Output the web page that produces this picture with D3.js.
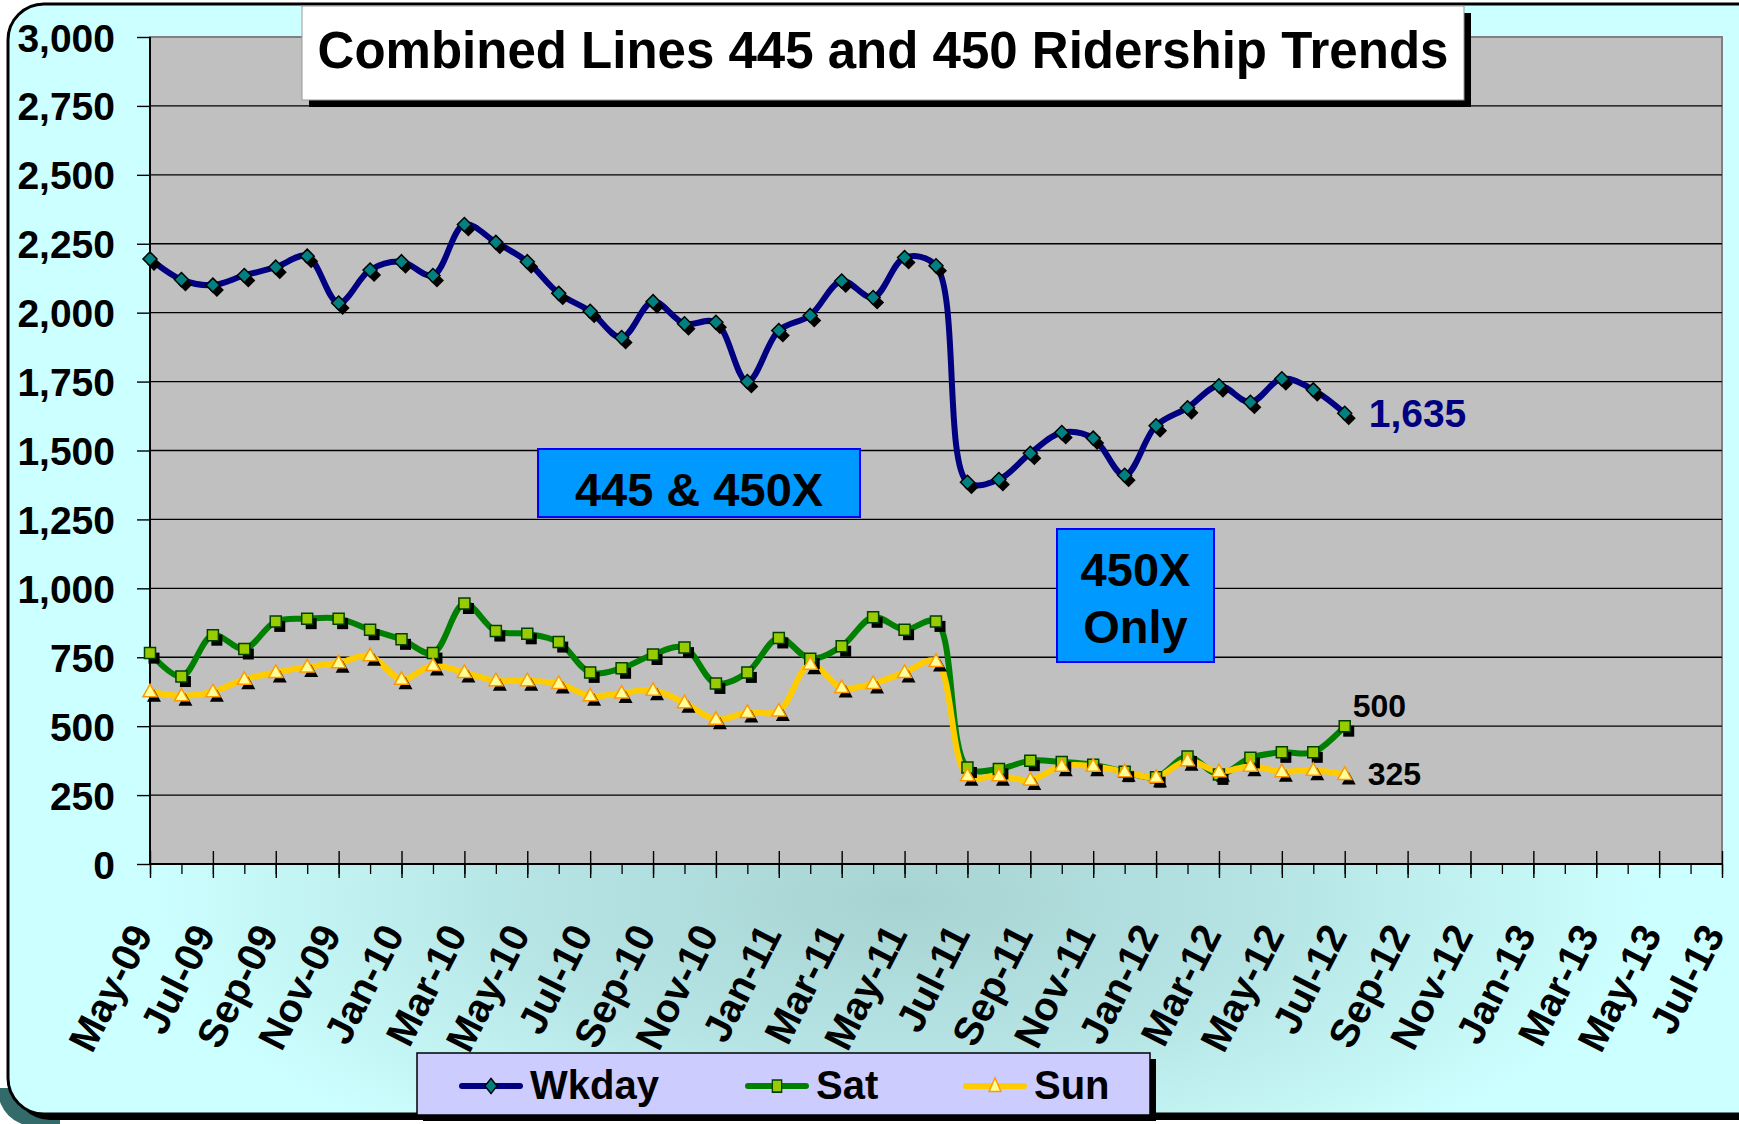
<!DOCTYPE html>
<html>
<head>
<meta charset="utf-8">
<script src="https://cdn.jsdelivr.net/npm/d3@7"></script>
<style>
  body { margin: 0; background: #fff; }
  svg { display: block; font-family: 'Liberation Sans', Arial, sans-serif; font-weight: bold; }
</style>
</head>
<body>
<svg id="chart" width="1739" height="1124"></svg>
<script>
var axisMonths = ['May-09', 'Jun-09', 'Jul-09', 'Aug-09', 'Sep-09', 'Oct-09', 'Nov-09', 'Dec-09',
  'Jan-10', 'Feb-10', 'Mar-10', 'Apr-10', 'May-10', 'Jun-10', 'Jul-10', 'Aug-10', 'Sep-10', 'Oct-10', 'Nov-10', 'Dec-10',
  'Jan-11', 'Feb-11', 'Mar-11', 'Apr-11', 'May-11', 'Jun-11', 'Jul-11', 'Aug-11', 'Sep-11', 'Oct-11', 'Nov-11', 'Dec-11',
  'Jan-12', 'Feb-12', 'Mar-12', 'Apr-12', 'May-12', 'Jun-12', 'Jul-12', 'Aug-12', 'Sep-12', 'Oct-12', 'Nov-12', 'Dec-12',
  'Jan-13', 'Feb-13', 'Mar-13', 'Apr-13', 'May-13', 'Jun-13', 'Jul-13']

var dataMonths = axisMonths.slice(0, 39)

var wkday = [2195, 2120, 2100, 2135, 2165, 2205, 2035, 2155, 2185, 2135,
  2320, 2255, 2185, 2070, 2005, 1910, 2040, 1960, 1965, 1750,
  1935, 1990, 2115, 2055, 2200, 2170, 1385, 1395, 1490, 1565,
  1545, 1410, 1590, 1655, 1735, 1675, 1760, 1720, 1635]

var sat = [765, 680, 830, 780, 880, 890, 890, 850, 815, 765,
  945, 845, 835, 805, 695, 710, 760, 785, 655, 695,
  820, 745, 790, 895, 850, 880, 350, 345, 375, 370,
  360, 335, 315, 390, 325, 385, 405, 405, 500]

var sun = [625, 610, 625, 670, 695, 715, 730, 755, 670, 720,
  695, 665, 665, 655, 610, 620, 630, 585, 525, 550,
  555, 725, 640, 655, 695, 735, 320, 320, 305, 355,
  355, 335, 315, 375, 335, 355, 335, 340, 325]

var yTicks = [0, 250, 500, 750, 1000, 1250, 1500, 1750, 2000, 2250, 2500, 2750, 3000]
var seriesNames = ['Wkday', 'Sat', 'Sun']
var title = 'Combined Lines 445 and 450 Ridership Trends'

var plot = { left: 150, right: 1722, top: 37, bottom: 864 }

var svg = d3.select('#chart')
var defs = svg.append('defs')

var grad = defs.append('radialGradient')
  .attr('id', 'bg')
  .attr('gradientUnits', 'userSpaceOnUse')
  .attr('cx', 900).attr('cy', 900).attr('r', 750)
  .attr('gradientTransform', 'translate(900,900) scale(1,0.42) translate(-900,-900)')
grad.append('stop').attr('offset', 0).attr('stop-color', '#a8d3d3')
grad.append('stop').attr('offset', 0.5).attr('stop-color', '#b6e4e4')
grad.append('stop').attr('offset', 1).attr('stop-color', '#ccffff')

defs.append('clipPath').attr('id', 'cornerClip')
  .append('rect').attr('x', 0).attr('y', 1088).attr('width', 60).attr('height', 40)

// frame with shadows
svg.append('rect')
  .attr('x', -2).attr('y', 16).attr('width', 1800).attr('height', 1110).attr('rx', 36)
  .attr('fill', '#336b6b')
  .attr('clip-path', 'url(#cornerClip)')
svg.append('rect')
  .attr('x', 14).attr('y', 10).attr('width', 1800).attr('height', 1110).attr('rx', 36)
  .attr('fill', '#000')
svg.append('rect')
  .attr('x', 8).attr('y', 4).attr('width', 1800).attr('height', 1110).attr('rx', 36)
  .attr('fill', 'url(#bg)')
  .attr('stroke', '#000').attr('stroke-width', 3)

var x = d3.scalePoint().domain(axisMonths).range([plot.left, plot.right])
var y = d3.scaleLinear().domain([0, 3000]).range([plot.bottom, plot.top])

// plot area
svg.append('rect')
  .attr('x', plot.left).attr('y', plot.top)
  .attr('width', plot.right - plot.left).attr('height', plot.bottom - plot.top)
  .attr('fill', '#c0c0c0')
  .attr('stroke', '#808080').attr('stroke-width', 2)

svg.append('g').selectAll('line')
  .data(yTicks.filter(function (d) { return d > 0 && d < 3000 }))
  .join('line')
  .attr('x1', plot.left).attr('x2', plot.right)
  .attr('y1', function (d) { return y(d) }).attr('y2', function (d) { return y(d) })
  .attr('stroke', '#000').attr('stroke-width', 1.4)

// y axis
var yAxis = svg.append('g')
  .attr('transform', 'translate(' + plot.left + ',0)')
  .call(d3.axisLeft(y).tickValues(yTicks).tickFormat(d3.format(',')).tickSize(13).tickPadding(22))
yAxis.select('.domain').remove()
yAxis.selectAll('line').attr('stroke', '#000').attr('stroke-width', 1.4)
yAxis.selectAll('text')
  .attr('font-size', 39).attr('font-family', "'Liberation Sans', Arial, sans-serif")
  .attr('font-weight', 'bold').attr('fill', '#000').attr('dy', '0.36em')

// x axis: minor ticks every month, major crossing ticks every two months
var majorMonths = axisMonths.filter(function (d, i) { return i % 2 === 0 })

var xMinor = svg.append('g')
  .attr('transform', 'translate(0,' + plot.bottom + ')')
  .call(d3.axisBottom(x).tickSize(10).tickFormat(''))
xMinor.select('.domain').remove()
xMinor.selectAll('line').attr('stroke', '#000').attr('stroke-width', 1.3)

var xAxis = svg.append('g')
  .attr('transform', 'translate(0,' + plot.bottom + ')')
  .call(d3.axisBottom(x).tickValues(majorMonths).tickSize(14))
xAxis.select('.domain').remove()
xAxis.selectAll('line').attr('y1', -13).attr('stroke', '#000').attr('stroke-width', 1.4)
xAxis.selectAll('text')
  .attr('font-size', 40).attr('font-family', "'Liberation Sans', Arial, sans-serif")
  .attr('font-weight', 'bold').attr('fill', '#000')
  .attr('x', 0).attr('y', 0).attr('dy', 0)
  .attr('text-anchor', 'end')
  .attr('transform', 'translate(3,70) rotate(-63)')

svg.append('line')
  .attr('x1', plot.left).attr('x2', plot.right)
  .attr('y1', plot.bottom).attr('y2', plot.bottom)
  .attr('stroke', '#000').attr('stroke-width', 2)
svg.append('line')
  .attr('x1', plot.left).attr('x2', plot.left)
  .attr('y1', plot.top).attr('y2', plot.bottom)
  .attr('stroke', '#000').attr('stroke-width', 2)

// series
var series = [
  { name: seriesNames[0], values: wkday, line: '#000080', fill: '#008080', stroke: '#000', shape: 'diamond' },
  { name: seriesNames[1], values: sat, line: '#008000', fill: '#99cc00', stroke: '#004000', shape: 'square' },
  { name: seriesNames[2], values: sun, line: '#ffcc00', fill: '#ffff99', stroke: '#ff9900', shape: 'triangle' }
]

function markerPath (shape) {
  if (shape === 'diamond') return 'M0,-7L7,0L0,7L-7,0Z'
  if (shape === 'square') return 'M-5.5,-5.5H5.5V5.5H-5.5Z'
  return 'M0,-7.5L7,5L-7,5Z'
}

var line = d3.line()
  .x(function (d, i) { return x(dataMonths[i]) })
  .y(function (d) { return y(d) })
  .curve(d3.curveCatmullRom.alpha(0.5))

svg.append('g').selectAll('path')
  .data(series)
  .join('path')
  .attr('d', function (s) { return line(s.values) })
  .attr('fill', 'none')
  .attr('stroke', function (s) { return s.line })
  .attr('stroke-width', 6)
  .attr('stroke-linejoin', 'round')

series.forEach(function (s) {
  var g = svg.append('g')
  g.selectAll('path.shadow')
    .data(s.values)
    .join('path')
    .attr('class', 'shadow')
    .attr('d', markerPath(s.shape))
    .attr('transform', function (d, i) { return 'translate(' + (x(dataMonths[i]) + 4) + ',' + (y(d) + 5) + ')' })
    .attr('fill', '#000')
  g.selectAll('path.mark')
    .data(s.values)
    .join('path')
    .attr('class', 'mark')
    .attr('d', markerPath(s.shape))
    .attr('transform', function (d, i) { return 'translate(' + x(dataMonths[i]) + ',' + y(d) + ')' })
    .attr('fill', s.fill)
    .attr('stroke', s.stroke)
    .attr('stroke-width', 1.5)
})

// last value labels
var last = dataMonths.length - 1
var lastX = x(dataMonths[last])
svg.append('text')
  .attr('x', lastX + 24).attr('y', y(wkday[last]) + 14)
  .attr('font-size', 39).attr('fill', '#000080')
  .text(d3.format(',')(wkday[last]))
svg.append('text')
  .attr('x', lastX + 8).attr('y', y(sat[last]) - 9)
  .attr('font-size', 32).attr('fill', '#000')
  .text(d3.format(',')(sat[last]))
svg.append('text')
  .attr('x', lastX + 23).attr('y', y(sun[last]) + 11)
  .attr('font-size', 32).attr('fill', '#000')
  .text(d3.format(',')(sun[last]))

// annotation boxes
function noteBox (bx, by, bw, bh, lines, baselines) {
  svg.append('rect')
    .attr('x', bx).attr('y', by).attr('width', bw).attr('height', bh)
    .attr('fill', '#0099ff').attr('stroke', '#0000ff').attr('stroke-width', 2)
  lines.forEach(function (t, i) {
    svg.append('text')
      .attr('x', bx + bw / 2).attr('y', baselines[i])
      .attr('text-anchor', 'middle').attr('font-size', 47).attr('fill', '#000')
      .text(t)
  })
}
noteBox(538, 449, 322, 68, ['445 & 450X'], [506])
noteBox(1057, 529, 157, 133, ['450X', 'Only'], [586, 643])

// title
svg.append('rect')
  .attr('x', 309).attr('y', 13).attr('width', 1162).attr('height', 94)
  .attr('fill', '#000')
svg.append('rect')
  .attr('x', 302).attr('y', 6).attr('width', 1162).attr('height', 94)
  .attr('fill', '#fff').attr('stroke', '#999').attr('stroke-width', 1)
svg.append('text')
  .attr('x', 883).attr('y', 68)
  .attr('text-anchor', 'middle').attr('font-size', 51).attr('fill', '#000')
  .text(title)

// legend
var legend = svg.append('g')
legend.append('rect')
  .attr('x', 423).attr('y', 1059).attr('width', 733).attr('height', 62).attr('fill', '#000')
legend.append('rect')
  .attr('x', 417).attr('y', 1053).attr('width', 733).attr('height', 62)
  .attr('fill', '#ccccff').attr('stroke', '#000').attr('stroke-width', 1.5)

var legendX = [462, 748, 966]
var item = legend.selectAll('g.item')
  .data(series)
  .join('g')
  .attr('class', 'item')
  .attr('transform', function (s, i) { return 'translate(' + legendX[i] + ',1086)' })
item.append('line')
  .attr('x1', 0).attr('x2', 58)
  .attr('stroke', function (s) { return s.line })
  .attr('stroke-width', 6).attr('stroke-linecap', 'round')
item.append('path')
  .attr('d', function (s) { return markerPath(s.shape) })
  .attr('transform', 'translate(29,0) scale(0.85,1.1)')
  .attr('fill', function (s) { return s.fill })
  .attr('stroke', function (s) { return s.stroke })
  .attr('stroke-width', 1.5)
item.append('text')
  .attr('x', 68).attr('y', 13)
  .attr('font-size', 40).attr('fill', '#000')
  .text(function (s) { return s.name })
</script>
</body>
</html>
